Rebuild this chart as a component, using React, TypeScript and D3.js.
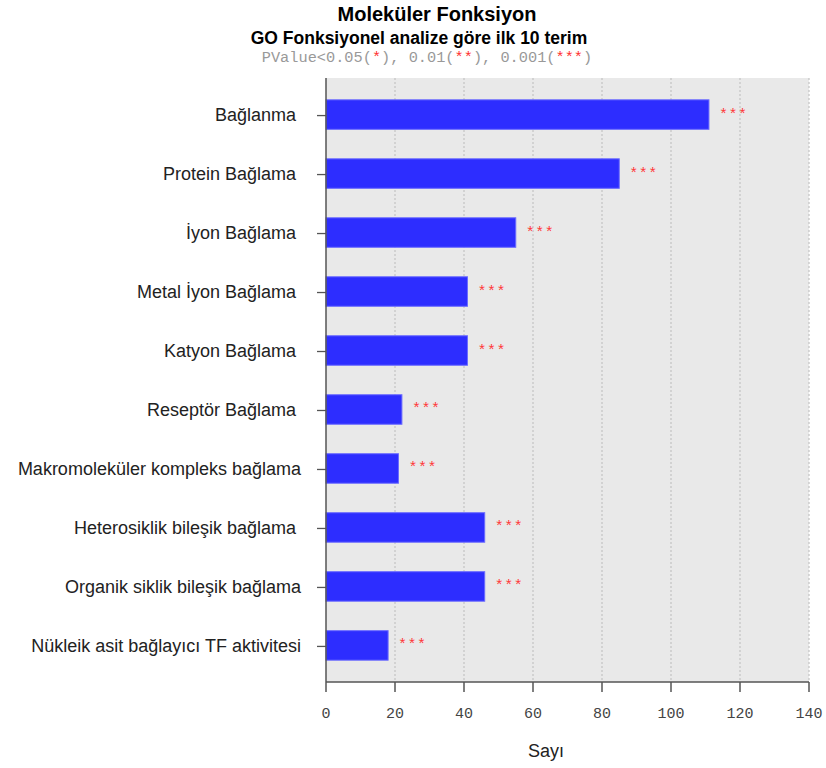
import React from "react";
import * as d3 from "d3";

const categories = [
  "Bağlanma ",
  "Protein Bağlama ",
  "İyon Bağlama ",
  "Metal İyon Bağlama ",
  "Katyon Bağlama ",
  "Reseptör Bağlama ",
  "Makromoleküler kompleks bağlama",
  "Heterosiklik bileşik bağlama ",
  "Organik siklik bileşik bağlama",
  "Nükleik asit bağlayıcı TF aktivitesi",
];
const counts = [111, 85, 55, 41, 41, 22, 21, 46, 46, 18];
const significance = ["***", "***", "***", "***", "***", "***", "***", "***", "***", "***"];
const xTicks = [0, 20, 40, 60, 80, 100, 120, 140];

const W = 826;
const H = 768;
const left = 326;
const right = 809;
const top = 78;
const bottom = 682;

export default function App() {
  const x = d3.scaleLinear().domain([0, 140]).range([left, right]);
  const y = d3
    .scaleBand<string>()
    .domain(categories)
    .range([top, bottom])
    .paddingInner(0.5)
    .paddingOuter(0.37);
  const mono = "'Liberation Mono', 'DejaVu Sans Mono', monospace";
  const sans = "'Liberation Sans', Arial, sans-serif";
  return (
    <svg
      width={W}
      height={H}
      style={{ position: "absolute", left: 0, top: 0, background: "#fff" }}
    >
      <text x={437} y={21} textAnchor="middle" fontFamily={sans} fontWeight="bold" fontSize={20} fill="#000">
        Moleküler Fonksiyon
      </text>
      <text x={419} y={44} textAnchor="middle" fontFamily={sans} fontWeight="bold" fontSize={17.5} fill="#000">
        GO Fonksiyonel analize göre ilk 10 terim
      </text>
      <text x={427} y={62} textAnchor="middle" fontFamily={mono} fontSize={15.3} fill="#999">
        <tspan>PValue&lt;0.05(</tspan>
        <tspan fill="#ff3030">*</tspan>
        <tspan>), 0.01(</tspan>
        <tspan fill="#ff3030">**</tspan>
        <tspan>), 0.001(</tspan>
        <tspan fill="#ff3030">***</tspan>
        <tspan>)</tspan>
      </text>

      <rect x={left} y={top} width={right - left} height={bottom - top} fill="#e9e9e9" />
      {xTicks.slice(1).map((t) => (
        <line
          key={"g" + t}
          x1={x(t)}
          x2={x(t)}
          y1={top}
          y2={bottom}
          stroke="#c4c4c4"
          strokeWidth={1.2}
          strokeDasharray="2,2"
        />
      ))}

      {categories.map((c, i) => {
        const yy = y(c)!;
        const bw = y.bandwidth();
        return (
          <g key={c}>
            <rect
              x={x(0)}
              y={yy}
              width={x(counts[i]) - x(0)}
              height={bw}
              fill="#2d2dff"
              stroke="#6a6aff"
              strokeWidth={1}
            />
            <text
              x={x(counts[i]) + 10}
              y={yy + bw / 2 + 4}
              fontFamily={mono}
              fontSize={15}
              fill="#ff3838"
              letterSpacing={0.5}
            >
              {significance[i]}
            </text>
            <line x1={left - 9} x2={left} y1={yy + bw / 2 + 1} y2={yy + bw / 2 + 1} stroke="#555" strokeWidth={1.3} />
            <text
              x={301}
              y={yy + bw / 2 + 6.5}
              textAnchor="end"
              fontFamily={sans}
              fontSize={18}
              fill="#222"
              style={{ whiteSpace: "pre" }}
            >
              {c}
            </text>
          </g>
        );
      })}

      <line x1={left} x2={left} y1={top} y2={bottom} stroke="#555" strokeWidth={1.5} />
      <line x1={left} x2={right} y1={bottom} y2={bottom} stroke="#555" strokeWidth={1.5} />
      {xTicks.map((t) => (
        <g key={"t" + t}>
          <line x1={x(t)} x2={x(t)} y1={bottom} y2={bottom + 10} stroke="#555" strokeWidth={1.5} />
          <text x={x(t)} y={718} textAnchor="middle" fontFamily={mono} fontSize={15} fill="#444">
            {t}
          </text>
        </g>
      ))}
      <text x={546} y={757} textAnchor="middle" fontFamily={sans} fontSize={18} fill="#222">
        Sayı
      </text>
    </svg>
  );
}
